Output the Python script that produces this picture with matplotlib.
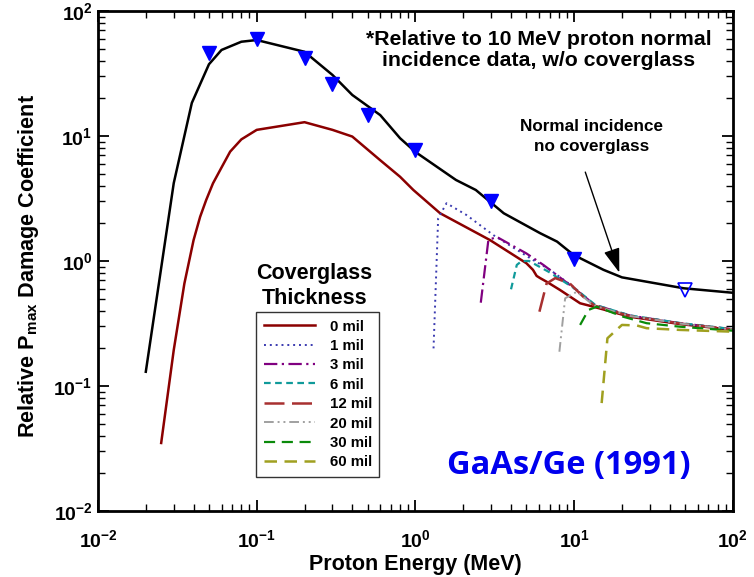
import matplotlib
matplotlib.use("Agg")
import matplotlib.pyplot as plt
from matplotlib.lines import Line2D
from matplotlib.ticker import FuncFormatter, LogLocator, NullFormatter
import numpy as np

plt.rcParams['font.family'] = ['Liberation Sans', 'DejaVu Sans']
plt.rcParams['font.weight'] = 'bold'
plt.rcParams['mathtext.fontset'] = 'custom'
plt.rcParams['mathtext.rm'] = 'Liberation Sans:bold'
plt.rcParams['mathtext.bf'] = 'Liberation Sans:bold'
plt.rcParams['mathtext.it'] = 'Liberation Sans:bold'

# normal incidence, no coverglass (black)
e_norm = [0.02, 0.03, 0.039, 0.05, 0.06, 0.08, 0.1, 0.2, 0.3, 0.4, 0.6, 0.8, 1.0,
          1.8, 2.4, 3.6, 6.1, 7.8, 9.9, 15.3, 20, 49, 100]
d_norm = [0.13, 4.2, 18.4, 37.5, 48.8, 56.8, 58.6, 47.2, 30.8, 21.3, 14.7, 9.6, 7.45,
          4.45, 3.7, 2.41, 1.67, 1.43, 1.12, 0.85, 0.74, 0.605, 0.557]

# measured points (triangles)
e_meas = [0.05, 0.1, 0.2, 0.3, 0.5, 1.0, 3.0, 10.0]
d_meas = [45.9, 59.3, 41.8, 26.0, 14.7, 7.7, 3.03, 1.03]
e_open = [50.0]
d_open = [0.586]

# coverglass thickness curves
labels = ['0 mil', '1 mil', '3 mil', '6 mil', '12 mil', '20 mil', '30 mil', '60 mil']

e_0 = [0.025, 0.03, 0.035, 0.04, 0.044, 0.048, 0.053, 0.06, 0.068, 0.08, 0.1, 0.2, 0.3,
       0.4, 0.6, 0.8, 0.97, 1.43, 2.95, 5.0, 5.5, 5.8, 6.1, 6.7, 8.15, 10.9, 13.2,
       22.5, 46.5, 100]
d_0 = [0.035, 0.194, 0.66, 1.47, 2.26, 3.07, 4.18, 5.6, 7.5, 9.4, 11.2, 12.9, 11.2,
       9.9, 6.4, 4.72, 3.7, 2.41, 1.47, 0.96, 0.85, 0.76, 0.73, 0.683, 0.586, 0.459, 0.431,
       0.358, 0.313, 0.281]

e_1 = [1.30, 1.39, 1.57, 2.1, 3.1, 5.5, 7.05, 9.9, 13.5, 22.5, 46.5, 100]
d_1 = [0.2, 2.2, 2.9, 2.33, 1.61, 1.02, 0.85, 0.62, 0.44, 0.365, 0.318, 0.284]

e_3 = [2.58, 2.88, 3.25, 5.0, 6.4, 9.6, 13.5, 22.5, 46.5, 100]
d_3 = [0.464, 1.47, 1.56, 1.15, 0.93, 0.63, 0.445, 0.366, 0.318, 0.284]

e_6 = [4.0, 4.35, 4.67, 5.2, 6.9, 10.4, 13.6, 22.5, 46.5, 100]
d_6 = [0.594, 0.93, 1.0, 1.0, 0.82, 0.586, 0.445, 0.367, 0.319, 0.285]

e_12 = [6.04, 6.7, 7.6, 9.4, 11.4, 13.4, 22.5, 46.5, 100]
d_12 = [0.393, 0.66, 0.73, 0.66, 0.518, 0.44, 0.362, 0.316, 0.283]

e_20 = [8.07, 8.77, 10.4, 13.3, 22.5, 46.5, 100]
d_20 = [0.188, 0.503, 0.568, 0.44, 0.363, 0.316, 0.283]

e_30 = [10.9, 12.3, 13.9, 20.4, 28.6, 46.5, 100]
d_30 = [0.308, 0.406, 0.431, 0.358, 0.318, 0.298, 0.277]

e_60 = [14.9, 16.2, 20.0, 24.8, 28.6, 46.5, 100]
d_60 = [0.073, 0.241, 0.308, 0.305, 0.29, 0.281, 0.272]

curves = [(e_0, d_0), (e_1, d_1), (e_3, d_3), (e_6, d_6), (e_12, d_12),
          (e_20, d_20), (e_30, d_30), (e_60, d_60)]
colors = ['#8b0000', '#3a3ab0', '#800080', '#109a9a', '#a83030', '#a0a0a0', '#0a8a0a', '#a0a020']
styles = ['-', (0, (1, 2)), (0, (6, 2, 1, 2)), (0, (3, 2)), (0, (8, 3)),
          (0, (5, 2, 1, 2, 1, 2)), (0, (5, 3)), (0, (5, 3))]
widths = [1.8, 1.4, 1.6, 1.6, 1.8, 1.4, 1.6, 1.8]

fig = plt.figure(figsize=(7.54, 5.77), dpi=100)
ax = fig.add_axes([0.130, 0.1144, 0.842, 0.8665])

ax.plot(e_norm, d_norm, color='black', lw=1.8, zorder=3)
for (e, d), c, s, w in zip(curves, colors, styles, widths):
    ax.plot(e, d, color=c, ls=s, lw=w, zorder=2)

ax.plot(e_meas, d_meas, ls='none', marker='v', ms=10, color='#0000ff', zorder=4)
ax.plot(e_open, d_open, ls='none', marker='v', ms=10.5, mfc='none', mec='#0000ff', mew=1.2, zorder=4)

ax.set_xscale('log')
ax.set_yscale('log')
ax.set_xlim(1e-2, 1e2)
ax.set_ylim(1e-2, 1e2)

fmt = FuncFormatter(lambda v, p: r'$\mathbf{10^{%d}}$' % round(np.log10(v)))
ax.xaxis.set_major_formatter(fmt)
ax.yaxis.set_major_formatter(fmt)
ax.xaxis.set_minor_formatter(NullFormatter())
ax.yaxis.set_minor_formatter(NullFormatter())
ax.xaxis.set_minor_locator(LogLocator(base=10, subs=np.arange(2, 10)))
ax.yaxis.set_minor_locator(LogLocator(base=10, subs=np.arange(2, 10)))
ax.tick_params(which='both', direction='in', top=True, right=True, labelsize=14)
ax.tick_params(which='major', length=8, width=1.3)
ax.tick_params(which='minor', length=5, width=1.0)
ax.tick_params(axis='x', which='major', pad=13)
ax.tick_params(axis='y', which='major', pad=4)
for sp in ax.spines.values():
    sp.set_linewidth(2)

ax.set_xlabel('Proton Energy (MeV)', fontsize=15.5, fontweight='bold', labelpad=2)
ax.set_ylabel(r'Relative P$_{\mathbf{max}}$ Damage Coefficient', fontsize=15.6,
              fontweight='bold')
ax.yaxis.set_label_coords(-0.09, 0.49)

ax.text(0.694, 0.962, '*Relative to 10 MeV proton normal\nincidence data, w/o coverglass',
        transform=ax.transAxes, ha='center', va='top', fontsize=15.3, fontweight='bold',
        linespacing=1.1)
ax.text(0.778, 0.785, 'Normal incidence\nno coverglass', transform=ax.transAxes,
        ha='center', va='top', fontsize=12.3, fontweight='bold', linespacing=1.45)
ax.annotate('', xy=(19.5, 0.77), xytext=(11.6, 5.4),
            arrowprops=dict(arrowstyle='-|>,head_length=1.5,head_width=0.5',
                            color='black', lw=1.0))

ax.text(0.341, 0.497, 'Coverglass\nThickness', transform=ax.transAxes, ha='center',
        va='top', fontsize=15.5, fontweight='bold', linespacing=1.3)

handles = [Line2D([], [], color=c, ls=s, lw=w) for c, s, w in zip(colors, styles, widths)]
leg = ax.legend(handles, labels, loc='upper left', bbox_to_anchor=(0.249, 0.398),
                frameon=True, fancybox=False, edgecolor='black', fontsize=10.8,
                handlelength=3.4, handletextpad=1.0, labelspacing=0.36,
                borderpad=0.5, borderaxespad=0)
leg.get_frame().set_linewidth(1.0)
for t in leg.get_texts():
    t.set_fontweight('bold')

ax.text(0.741, 0.09, 'GaAs/Ge (1991)', transform=ax.transAxes, ha='center',
        va='center', fontsize=23.5, fontweight='bold', color='#0000ee',
        family=['Open Sans', 'DejaVu Sans'])

fig.savefig('out.png', dpi=100)
